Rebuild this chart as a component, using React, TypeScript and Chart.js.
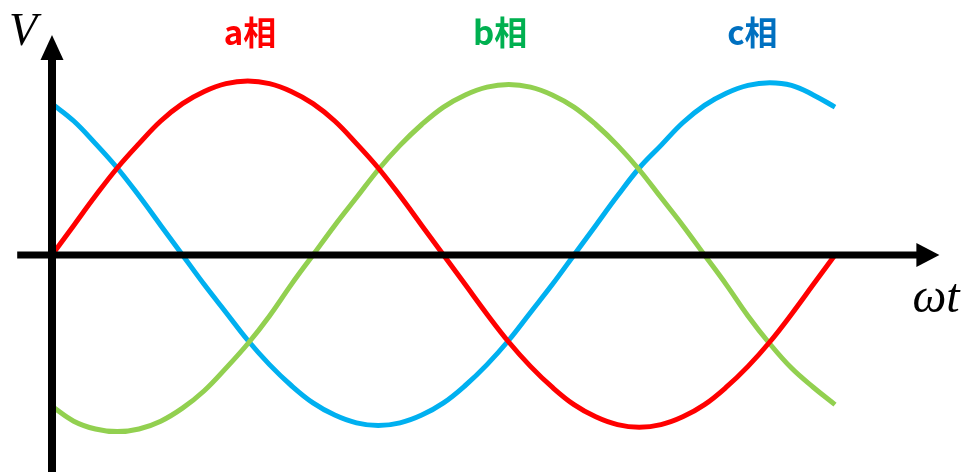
import React, { useEffect, useRef } from "react";
import { Chart, registerables } from "chart.js";

Chart.register(...registerables);

// Phase angle ωt in degrees
const ANGLES = [0, 10, 20, 30, 40, 50, 60, 70, 80, 90, 100, 110, 120, 130, 140, 150, 160, 170, 180, 190, 200, 210, 220, 230, 240, 250, 260, 270, 280, 290, 300, 310, 320, 330, 340, 350, 360];

// (normalised voltage)
const PHASE_A = [0, 0.17, 0.34, 0.5, 0.64, 0.77, 0.87, 0.94, 0.985, 1.0, 0.985, 0.94, 0.87, 0.77, 0.64, 0.5, 0.34, 0.17, 0, -0.17, -0.34, -0.5, -0.64, -0.76, -0.86, -0.93, -0.975, -0.99, -0.975, -0.93, -0.86, -0.76, -0.64, -0.5, -0.34, -0.17, 0];
const PHASE_B = [-0.87, -0.955, -1.0, -1.015, -1.0, -0.955, -0.88, -0.78, -0.65, -0.51, -0.35, -0.17, 0, 0.17, 0.33, 0.49, 0.63, 0.75, 0.85, 0.92, 0.965, 0.98, 0.965, 0.92, 0.85, 0.75, 0.63, 0.49, 0.33, 0.17, 0, -0.17, -0.35, -0.51, -0.65, -0.76, -0.86];
const PHASE_C = [0.87, 0.77, 0.64, 0.5, 0.34, 0.17, 0, -0.17, -0.33, -0.49, -0.63, -0.75, -0.85, -0.92, -0.965, -0.98, -0.965, -0.92, -0.85, -0.75, -0.63, -0.49, -0.33, -0.17, 0, 0.17, 0.34, 0.5, 0.63, 0.76, 0.86, 0.93, 0.975, 0.99, 0.975, 0.92, 0.85];

const SERIES_NAMES = ["a相", "b相", "c相"];
const LINE_COLORS = ["#FF0000", "#92D050", "#00B0F0"];
const LABEL_COLORS = ["#FF0000", "#00B050", "#0070C0"];
// label anchor positions in data units (angle)
const LABEL_ANGLES = [91, 206, 322];

const AXIS_X_LABEL = "ωt";
const AXIS_Y_LABEL = "V";

// axis extents in data units
const H_AXIS_FROM = -16;
const H_AXIS_TO = 408;
const V_AXIS_FROM = -1.3;
const V_AXIS_TO = 1.265;

const axesPlugin = {
  id: "axesPlugin",
  afterDatasetsDraw(chart: any) {
    const ctx = chart.ctx as CanvasRenderingContext2D;
    const xs = chart.scales.x;
    const ys = chart.scales.y;
    const x0 = xs.getPixelForValue(0);
    const y0 = ys.getPixelForValue(0);
    ctx.save();
    ctx.fillStyle = "#000";
    ctx.strokeStyle = "#000";
    ctx.lineCap = "butt";

    // horizontal axis
    const hx1 = xs.getPixelForValue(H_AXIS_FROM);
    const hx2 = xs.getPixelForValue(H_AXIS_TO);
    const headLenH = 23;
    ctx.lineWidth = 7;
    ctx.beginPath();
    ctx.moveTo(hx1, y0);
    ctx.lineTo(hx2 - headLenH + 1, y0);
    ctx.stroke();
    ctx.beginPath();
    ctx.moveTo(hx2, y0);
    ctx.lineTo(hx2 - headLenH, y0 - 12);
    ctx.lineTo(hx2 - headLenH, y0 + 12);
    ctx.closePath();
    ctx.fill();

    // vertical axis
    const vy1 = ys.getPixelForValue(V_AXIS_FROM);
    const vy2 = ys.getPixelForValue(V_AXIS_TO);
    const headLenV = 25;
    ctx.lineWidth = 8;
    ctx.beginPath();
    ctx.moveTo(x0, vy1);
    ctx.lineTo(x0, vy2 + headLenV - 1);
    ctx.stroke();
    ctx.beginPath();
    ctx.moveTo(x0, vy2);
    ctx.lineTo(x0 - 11.5, vy2 + headLenV);
    ctx.lineTo(x0 + 11.5, vy2 + headLenV);
    ctx.closePath();
    ctx.fill();

    // axis labels
    ctx.textBaseline = "alphabetic";
    ctx.textAlign = "left";
    ctx.font = "italic 46px 'Liberation Serif', serif";
    ctx.fillText(AXIS_Y_LABEL, x0 - 43, vy2 + 10);
    ctx.font = "italic 48px 'Liberation Serif', serif";
    ctx.fillText(AXIS_X_LABEL, hx2 - 27, y0 + 57);

    // series labels
    ctx.textAlign = "center";
    ctx.font = "bold 33px 'Noto Sans CJK JP', 'Noto Sans', sans-serif";
    SERIES_NAMES.forEach((name, i) => {
      ctx.fillStyle = LABEL_COLORS[i];
      ctx.fillText(name, xs.getPixelForValue(LABEL_ANGLES[i]), y0 - 210);
    });
    ctx.restore();
  },
};

export default function App() {
  const ref = useRef<HTMLCanvasElement>(null);
  useEffect(() => {
    if (!ref.current) return;
    const series = [PHASE_A, PHASE_B, PHASE_C];
    const chart = new Chart(ref.current, {
      type: "line",
      data: {
        datasets: series.map((vals, i) => ({
          label: SERIES_NAMES[i],
          data: ANGLES.map((a, j) => ({ x: a, y: vals[j] })),
          borderColor: LINE_COLORS[i],
          borderWidth: 5,
          pointRadius: 0,
          tension: 0.4,
          fill: false,
          clip: false as any,
          borderCapStyle: "butt" as const,
        })),
      },
      options: {
        animation: false,
        responsive: false,
        maintainAspectRatio: false,
        layout: { padding: { left: 52, right: 133, top: 81, bottom: 43 } },
        plugins: { legend: { display: false }, tooltip: { enabled: false }, title: { display: false } },
        scales: {
          x: { type: "linear", min: 0, max: 360, display: false },
          y: { type: "linear", min: -1, max: 1, display: false },
        },
      },
      plugins: [axesPlugin],
    });
    return () => chart.destroy();
  }, []);
  return (
    <div style={{ position: "absolute", left: 0, top: 0, width: 968, height: 472, background: "#fff" }}>
      <canvas ref={ref} width={968} height={472} style={{ display: "block" }} />
    </div>
  );
}
